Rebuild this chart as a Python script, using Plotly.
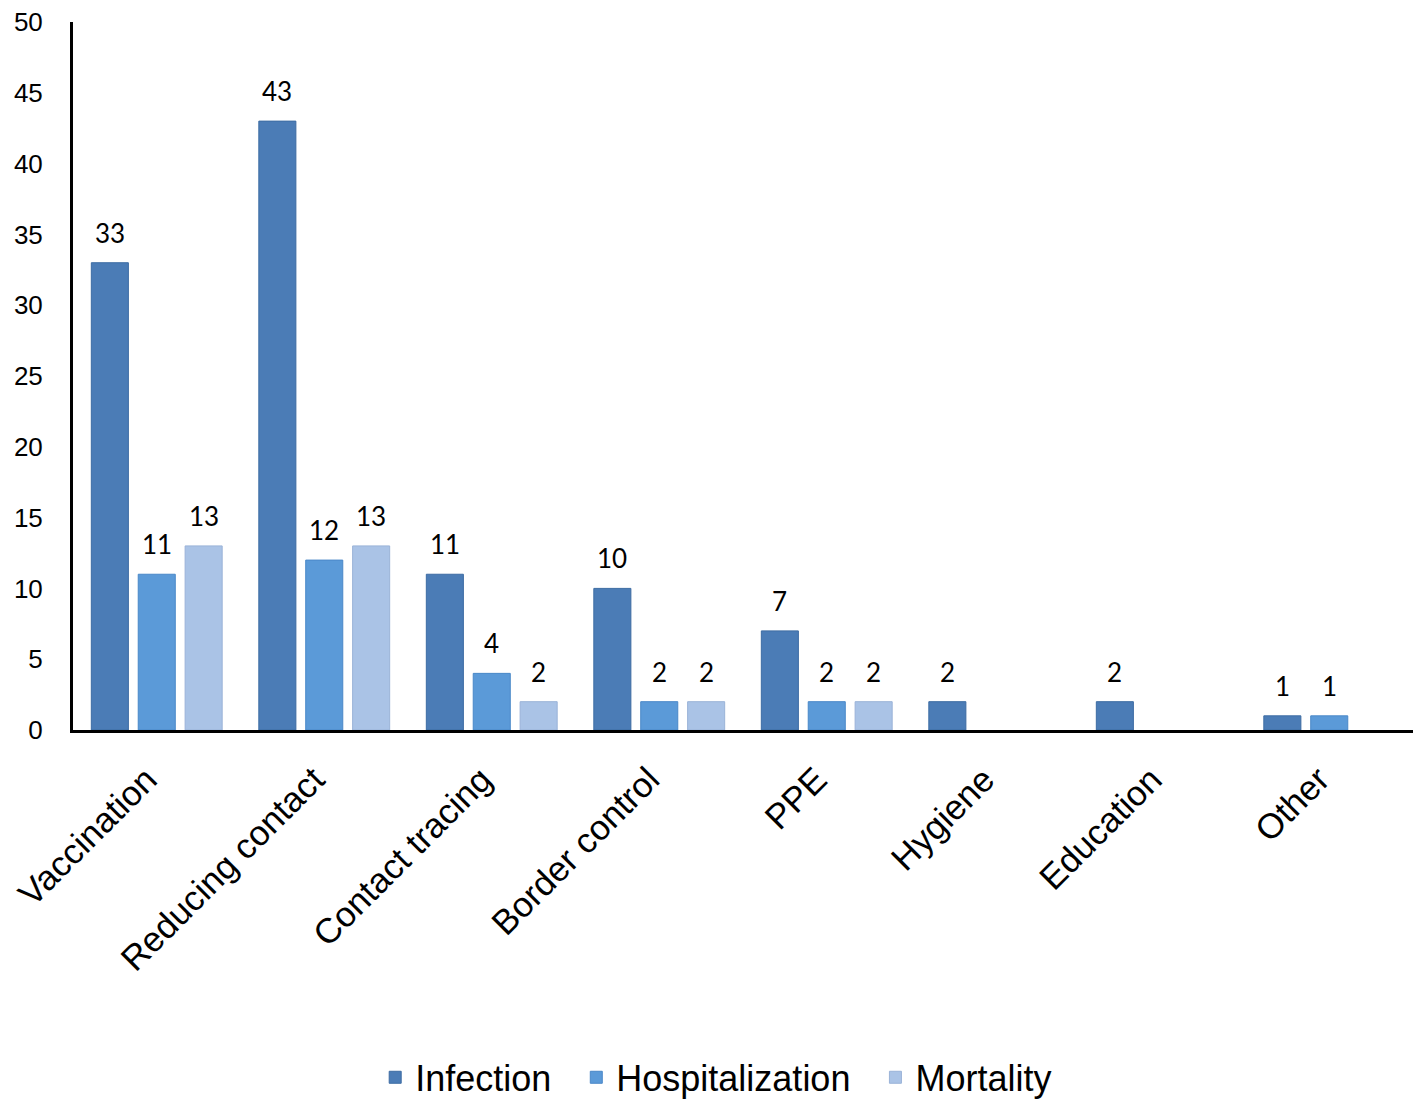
import plotly.graph_objects as go

categories = ["Vaccination", "Reducing contact", "Contact tracing", "Border control",
              "PPE", "Hygiene", "Education", "Other"]
infection = [33, 43, 11, 10, 7, 2, 2, 1]
hospitalization = [11, 12, 4, 2, 2, None, None, 1]
mortality = [13, 13, 2, 2, 2, None, None, None]

series = [
    ("Infection", infection, "#4b7cb6", "#3d6ca3"),
    ("Hospitalization", hospitalization, "#5b9ad8", "#4a88c8"),
    ("Mortality", mortality, "#aac3e6", "#9ab3d8"),
]

W, H = 1418, 1105
ML, MR, MT, MB = 73, 5, 22, 375
BARGAP = 0.16
plot_w = W - ML - MR
slot = plot_w / len(categories) * (1 - BARGAP) / len(series)
PAD = "\u00a0\u00a0"  # extra spacing between legend entries

fig = go.Figure()
annotations = []
for i, (name, vals, col, line) in enumerate(series):
    fig.add_trace(go.Bar(
        name=name + (PAD if i < len(series) - 1 else ""), x=categories, y=vals,
        marker=dict(color=col, line=dict(color=line, width=1)),
    ))
    shift = (i - (len(series) - 1) / 2) * slot
    for c, v in zip(categories, vals):
        if v is None:
            continue
        annotations.append(dict(
            x=c, y=v, text=str(v), showarrow=False, xref="x", yref="y",
            xanchor="center", yanchor="bottom", xshift=shift, yshift=12,
            font=dict(family="Lato, Open Sans, sans-serif", size=26, color="black"),
        ))

fig.update_layout(
    width=W, height=H,
    barmode="group", bargap=BARGAP, bargroupgap=0.21,
    plot_bgcolor="white", paper_bgcolor="white",
    margin=dict(l=ML, r=MR, t=MT, b=MB),
    font=dict(family="Liberation Sans, Arial, sans-serif", color="black"),
    showlegend=True,
    annotations=annotations,
    legend=dict(orientation="h", xref="paper", x=0.48, xanchor="center",
                yref="container", y=0.025, yanchor="middle",
                font=dict(size=36, family="Liberation Sans, Arial, sans-serif"),
                itemwidth=30, traceorder="normal"),
)
fig.update_yaxes(range=[0, 50], dtick=5, showgrid=False, zeroline=False,
                 showline=True, linecolor="black", linewidth=3, automargin=False,
                 ticks="", tickfont=dict(size=26), ticklabelstandoff=22,
                 ticklabeloverflow="allow")
fig.update_xaxes(showgrid=False, showline=True, linecolor="black", linewidth=3,
                 automargin=False, ticklabeloverflow="allow",
                 ticks="", tickangle=-45, tickfont=dict(size=35),
                 ticklabelstandoff=12, ticklabelshift=-10)

fig.write_html("out.html", config={"displayModeBar": False},
               post_script="document.body.style.margin='0px';")
